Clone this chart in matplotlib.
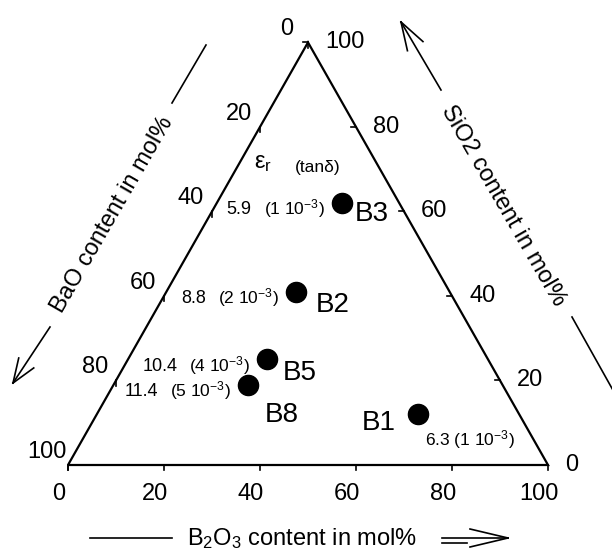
import numpy as np
import matplotlib
matplotlib.use("Agg")
import matplotlib.pyplot as plt
from matplotlib.lines import Line2D

plt.rcParams["font.family"] = ["Liberation Sans", "DejaVu Sans"]
plt.rcParams["mathtext.fontset"] = "custom"
plt.rcParams["mathtext.rm"] = "Liberation Sans"
plt.rcParams["mathtext.it"] = "Liberation Sans:italic"
plt.rcParams["mathtext.default"] = "regular"

# glass compositions in mol% and measured dielectric data
samples = ["B1", "B2", "B3", "B5", "B8"]
sio2 = [12, 41, 62, 25, 19]
b2o3 = [67, 27, 26, 29, 28]
bao = [21, 32, 12, 46, 53]
eps_r = ["6.3", "8.8", "5.9", "10.4", "11.4"]
tan_d = ["1", "2", "1", "4", "5"]
ticks = [0, 20, 40, 60, 80, 100]

H = np.sqrt(3) / 2


def tern(b, s):
    # B2O3 grows to the right along the base, SiO2 up to the apex
    return b / 100 + s / 200, s / 100 * H


fig = plt.figure(figsize=(6.12, 5.52), dpi=100)
ax = fig.add_axes([0, 0, 1, 1])
ax.set_xlim(-68 / 480, 544 / 480)
ax.set_ylim(-87 / 488, 465 / 488)
ax.axis("off")

# triangle frame
ax.plot([0, 1, 0.5, 0], [0, 0, H, 0], color="black", lw=1.6,
        solid_joinstyle="miter", solid_capstyle="butt")

tl = 0.011
lab = dict(fontsize=17, textcoords="offset pixels", va="center")
for t in ticks:
    # B2O3 along the base
    x, y = tern(t, 0)
    ax.plot([x, x], [y, y - tl], color="black", lw=1.2)
    ax.annotate(str(t), (x, y), xytext=(-9, -29), ha="center", **lab)
    # BaO along the left side
    x, y = tern(0, 100 - t)
    ax.plot([x, x], [y, y - tl], color="black", lw=1.2)
    ax.annotate(str(t), (x, y), xytext=(-21, 13), ha="center", **lab)
    # SiO2 along the right side
    x, y = tern(100 - t, t)
    ax.plot([x, x - tl], [y, y], color="black", lw=1.2)
    ax.annotate(str(t), (x, y), xytext=(17, 0), ha="left", **lab)

# sample points
px, py = tern(np.array(b2o3), np.array(sio2))
ax.plot(px, py, "o", ms=14.5, color="black", mec="black")

name_off = {"B1": (-23, -9, "right"), "B2": (20, -13, "left"),
            "B3": (13, -11, "left"), "B5": (16, -14, "left"),
            "B8": (17, -30, "left")}
for i, s in enumerate(samples):
    dx, dy, ha = name_off[s]
    ax.annotate(s, (px[i], py[i]), xytext=(dx, dy), textcoords="offset pixels",
                ha=ha, va="center", fontsize=20)
    if s == "B1":
        ax.annotate(f"{eps_r[i]} ({tan_d[i]} 10$^{{-3}}$)", (px[i], py[i]),
                    xytext=(7, -25), textcoords="offset pixels",
                    ha="left", va="center", fontsize=12.5)
    else:
        tt = ax.annotate(f"({tan_d[i]} 10$^{{-3}}$)", (px[i], py[i]),
                         xytext=(-17, -6), textcoords="offset pixels",
                         ha="right", va="center", fontsize=12.5)
        ax.annotate(eps_r[i], (0, 0.5), xycoords=tt, xytext=(-12, -1),
                    textcoords="offset pixels", ha="right", va="center",
                    fontsize=13)

# column header for the dielectric data
ax.annotate("ε$_r$", tern(0, 70), xytext=(18, 6), textcoords="offset pixels",
            ha="left", va="center", fontsize=17)
ax.annotate("(tanδ)", tern(0, 70), xytext=(59, 2), textcoords="offset pixels",
            ha="left", va="center", fontsize=12.5)


def fpx(x, y):
    return x / 612, 1 - y / 552


def seg(p0, p1, lw=1.2):
    (x0, y0), (x1, y1) = fpx(*p0), fpx(*p1)
    fig.add_artist(Line2D([x0, x1], [y0, y1], color="black", lw=lw,
                          transform=fig.transFigure))


def open_arrow(tail, tip, length, spread):
    seg(tail, tip)
    d = np.array(tip, float) - np.array(tail, float)
    d /= np.hypot(*d)
    n = np.array([-d[1], d[0]])
    for sgn in (1, -1):
        seg(tip, np.array(tip) - d * length + sgn * n * spread)


# axis titles with their arrows
fig.text(*fpx(112, 215), "BaO content in mol%", rotation=60, fontsize=17,
         ha="center", va="center", rotation_mode="anchor")
seg((172, 103), (206, 45))
open_arrow((50, 327), (13, 383), 24, 9)

fig.text(*fpx(503, 206), "SiO2 content in mol%", rotation=-60, fontsize=17,
         ha="center", va="center", rotation_mode="anchor")
open_arrow((441, 90), (401, 22), 28, 9)
seg((572, 317), (614, 392))

fig.text(*fpx(302, 545), "B$_2$O$_3$ content in mol%", fontsize=17,
         ha="center", va="baseline")
seg((90, 538), (172, 538))
open_arrow((442, 538), (508, 538), 38, 9)
seg((442, 543), (467, 543))

fig.savefig("out.png", dpi=100, facecolor="white")
